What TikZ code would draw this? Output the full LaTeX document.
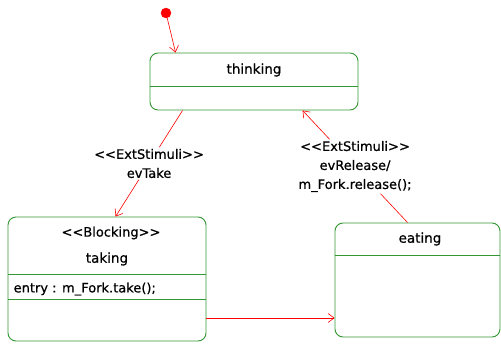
\documentclass[tikz,border=0pt]{standalone}
\usepackage{fontspec}
\setmainfont{DejaVu Sans}[Ligatures=TeXOff, FakeBold=0.6]
\usetikzlibrary{arrows.meta,calc}
\definecolor{stgreen}{RGB}{50,150,50}
\newcommand\dlt{\mbox{<}\kern0pt\mbox{<}}
\newcommand\dgt{\mbox{>}\kern0pt\mbox{>}}
\begin{document}
\begin{tikzpicture}[x=1pt,y=-1pt,
  state/.style={draw=stgreen, line width=0.9pt, rounded corners=8pt, rectangle, inner sep=0pt},
  divider/.style={draw=stgreen, line width=0.9pt},
  wire/.style={draw=red, line width=0.6pt},
  trans/.style={wire, -{Straight Barb[length=6pt,width=9pt]}},
  lbl/.style={font=\fontsize{13}{19}\selectfont, align=center, inner sep=1.5pt, text=black},
  sname/.style={lbl, font=\fontsize{13.5}{19}\selectfont}]
\useasboundingbox (0,0) rectangle (501,343);
% states
\node[state, minimum width=208pt, minimum height=57pt] (thinking) at (254,81.5) {};
\node[state, minimum width=198pt, minimum height=124pt] (taking) at (107,279) {};
\node[state, minimum width=165pt, minimum height=114pt] (eating) at (417.5,280) {};
% dividers
\draw[divider] (thinking.west |- 0,86) -- (thinking.east |- 0,86);
\draw[divider] (taking.west |- 0,274) -- (taking.east |- 0,274);
\draw[divider] (taking.west |- 0,299) -- (taking.east |- 0,299);
\draw[divider] (eating.west |- 0,255) -- (eating.east |- 0,255);
% texts
\node[sname] (thinkingName) at (254,70) {thinking};
\node[lbl] (takingStereo) at (111,233) {\dlt Blocking\dgt};
\node[sname] (takingName) at (107,259) {taking};
\node[lbl, anchor=west] (takingEntry) at (12,289) {entry : m\_Fork.take();};
\node[sname] (eatingName) at (420,239) {eating};
% initial
\node[circle, fill=red, draw=red, minimum size=10pt, inner sep=0pt] (init) at (166,13) {};
% anchor points
\coordinate (tk0) at ($(thinking.north west)+(26,0)$);
\coordinate (tk1) at ($(thinking.south west)+(33,0)$);
\coordinate (tk2) at ($(thinking.south west)+(153,0)$);
\coordinate (ta1) at ($(taking.north west)+(108,0)$);
\coordinate (ea1) at ($(eating.north west)+(73,0)$);
% labels
\node[lbl] (l1) at ($(tk1)!0.5!(ta1)$) {\dlt ExtStimuli\dgt\\evTake};
\node[lbl] (l2) at ($(ea1)!0.5!(tk2)$) {\dlt ExtStimuli\dgt\\evRelease/\\m\_Fork.release();};
% transitions
\draw[trans] (init) -- (tk0);
\draw[wire] (tk1) -- (l1);
\draw[trans] (l1) -- (ta1);
\draw[wire] (ea1) -- (l2);
\draw[trans] (l2) -- (tk2);
\draw[trans] (taking.east |- 0,318) -- (eating.west |- 0,318);
\end{tikzpicture}
\end{document}
